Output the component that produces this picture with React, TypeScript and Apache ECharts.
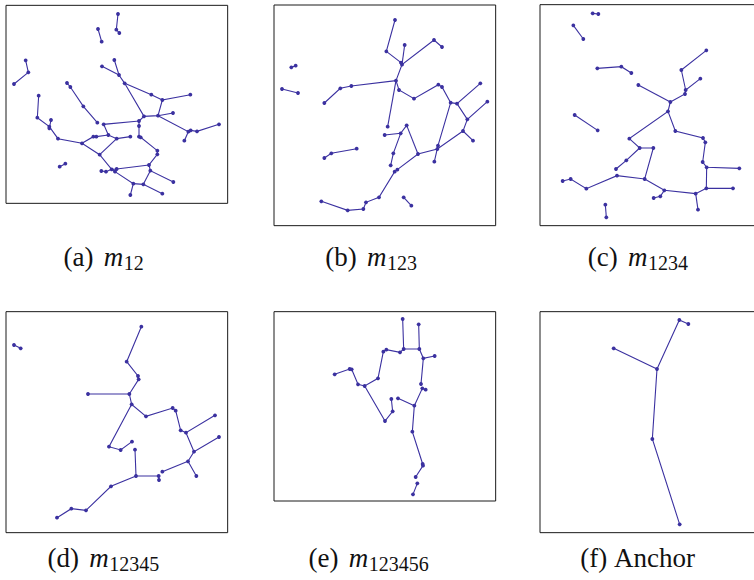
import React, { useEffect, useRef } from "react";
import * as echarts from "echarts";

const INK = "#3b31a0";

// Each panel is a set of polylines (chains of connected nodes), in panel units.
const chainsA: number[][][] = [
  [[354, 42], [349, 89], [358, 99]],
  [[294, 87], [305, 125]],
  [[77, 181], [85, 217], [42, 252]],
  [[201, 249], [211, 261], [250, 319], [292, 368]],
  [[179, 500], [196, 491]],
  [[116, 287], [112, 353], [148, 380], [174, 416], [246, 430], [299, 464], [335, 508], [345, 515], [400, 551], [430, 553], [487, 581]],
  [[153, 360], [148, 385]],
  [[246, 430], [280, 410], [289, 410], [325, 405], [350, 416], [391, 410]],
  [[350, 416], [299, 464]],
  [[325, 405], [311, 373], [417, 363], [417, 378], [417, 410], [422, 412], [472, 452], [472, 463], [447, 495], [451, 512], [520, 546]],
  [[451, 512], [430, 553]],
  [[400, 551], [391, 585]],
  [[304, 513], [318, 515], [335, 508], [350, 507], [447, 495]],
  [[306, 199], [357, 225]],
  [[343, 180], [357, 225], [374, 250], [432, 349], [474, 347], [487, 300], [571, 284]],
  [[374, 250], [454, 284], [487, 300]],
  [[474, 347], [519, 339]],
  [[474, 347], [565, 395], [572, 391], [591, 394], [657, 373]],
  [[565, 395], [553, 422]],
  [[432, 349], [417, 363]],
];

const chainsB: number[][][] = [
  [[70, 202], [83, 197]],
  [[42, 267], [90, 279]],
  [[381, 60], [355, 154], [399, 188]],
  [[410, 135], [402, 194]],
  [[522, 141], [498, 120], [402, 194], [384, 242]],
  [[384, 242], [250, 258], [217, 265], [169, 309]],
  [[384, 242], [393, 270], [438, 296], [511, 254], [522, 261], [548, 308], [567, 311], [637, 250]],
  [[384, 242], [359, 380]],
  [[567, 311], [598, 358], [658, 305]],
  [[598, 358], [585, 393], [615, 422]],
  [[585, 393], [508, 447], [450, 462], [388, 509], [380, 515], [333, 592], [294, 607], [286, 627], [239, 631], [160, 604]],
  [[548, 308], [510, 437], [499, 485]],
  [[416, 376], [450, 462]],
  [[350, 405], [398, 400], [416, 376]],
  [[398, 400], [376, 460], [368, 496]],
  [[407, 592], [430, 617]],
  [[169, 474], [190, 460], [266, 446]],
];

const chainsC: number[][][] = [
  [[176, 40], [193, 42]],
  [[118, 76], [148, 117]],
  [[190, 205], [262, 200], [292, 219]],
  [[122, 345], [191, 391]],
  [[313, 255], [409, 306]],
  [[517, 151], [442, 210], [455, 270]],
  [[499, 236], [455, 270], [453, 282], [409, 306]],
  [[409, 306], [402, 334], [286, 416], [317, 444], [358, 444], [332, 537], [249, 527], [157, 566], [110, 537], [86, 543]],
  [[317, 444], [277, 481], [246, 507]],
  [[402, 334], [424, 393], [507, 414], [514, 427], [506, 486], [518, 502], [616, 505]],
  [[518, 502], [517, 565], [597, 565]],
  [[517, 565], [485, 581], [391, 571], [332, 537]],
  [[485, 581], [492, 629]],
  [[391, 571], [379, 589], [359, 594]],
  [[214, 614], [217, 652]],
];

const chainsD: number[][][] = [
  [[42, 120], [62, 130]],
  [[424, 65], [380, 170], [414, 213], [416, 223], [388, 267], [264, 267]],
  [[388, 267], [395, 298], [438, 334], [518, 309], [527, 317], [542, 376], [558, 383], [645, 331]],
  [[558, 383], [582, 440], [657, 396]],
  [[582, 440], [564, 469], [589, 513]],
  [[564, 469], [487, 500]],
  [[395, 298], [327, 425], [362, 435], [396, 410]],
  [[405, 434], [408, 513], [476, 513], [477, 525]],
  [[408, 513], [333, 544], [258, 616], [214, 611], [171, 638]],
];

const chainsE: number[][][] = [
  [[404, 42], [407, 132], [454, 132], [452, 58]],
  [[407, 132], [396, 142], [355, 134], [346, 140], [330, 220], [290, 243], [270, 238], [251, 193], [245, 192], [200, 208]],
  [[290, 243], [351, 348], [374, 319], [370, 282]],
  [[454, 132], [466, 160], [500, 153]],
  [[466, 160], [459, 237]],
  [[473, 254], [463, 250], [439, 302], [390, 280]],
  [[439, 302], [433, 380], [464, 477], [465, 482], [443, 516]],
  [[448, 535], [435, 568]],
];

const chainsF: number[][][] = [
  [[239, 130], [369, 192], [436, 45], [463, 57]],
  [[369, 192], [355, 402], [437, 658]],
];

const captionLabels = ["(a)", "(b)", "(c)", "(d)", "(e)", "(f)"];
const captionNames = ["m", "m", "m", "m", "m", "Anchor"];
const captionSubs = ["12", "123", "1234", "12345", "123456", ""];

// layout: page offset of each panel, panel unit extents (1 unit = 1/3 px), caption ink start & baseline
const layout = [
  { ox: 0, oy: 0, x0: 18, x1: 683, y0: 16, y1: 610, capX: 65, capY: 264 },
  { ox: 268, oy: 0, x0: 18, x1: 683, y0: 15, y1: 677, capX: 326.7, capY: 264 },
  { ox: 534, oy: 0, x0: 18, x1: 683, y0: 14, y1: 677, capX: 589.3, capY: 264 },
  { ox: 0, oy: 305, x0: 18, x1: 683, y0: 20, y1: 683, capX: 49, capY: 564.5 },
  { ox: 268, oy: 305, x0: 18, x1: 683, y0: 20, y1: 588, capX: 310, capY: 564.5 },
  { ox: 534, oy: 305, x0: 18, x1: 683, y0: 20, y1: 683, capX: 581.7, capY: 564.5 },
];

const allChains = [chainsA, chainsB, chainsC, chainsD, chainsE, chainsF];

const FONT = '"Liberation Serif", "Times New Roman", serif';
const MAIN = 27;
const SUB = 20;
const BASE_SHIFT = 2.5;

function measure(text: string, font: string): number {
  const ctx = document.createElement("canvas").getContext("2d");
  if (!ctx) return text.length * 10;
  ctx.font = font;
  return ctx.measureText(text).width;
}

export default function App() {
  const ref = useRef<HTMLDivElement>(null);
  useEffect(() => {
    if (!ref.current) return;
    const chart = echarts.init(ref.current, undefined, { renderer: "svg" });
    const grid: any[] = [];
    const xAxis: any[] = [];
    const yAxis: any[] = [];
    const series: any[] = [];
    const graphic: any[] = [];
    layout.forEach((p, i) => {
      grid.push({
        left: p.ox + p.x0 / 3,
        top: p.oy + p.y0 / 3,
        width: (p.x1 - p.x0) / 3,
        height: (p.y1 - p.y0) / 3,
        show: true,
        borderColor: "#1a1a1a",
        borderWidth: 1,
        backgroundColor: "transparent",
      });
      xAxis.push({ type: "value", gridIndex: i, min: p.x0, max: p.x1, show: false });
      yAxis.push({ type: "value", gridIndex: i, min: p.y0, max: p.y1, inverse: true, show: false });
      const chains = allChains[i];
      series.push({
        type: "lines",
        coordinateSystem: "cartesian2d",
        xAxisIndex: i,
        yAxisIndex: i,
        polyline: true,
        silent: true,
        data: chains.map((c) => ({ coords: c })),
        lineStyle: { color: INK, width: 1.1, opacity: 1 },
      });
      const seen = new Set<string>();
      const pts: number[][] = [];
      chains.forEach((c) =>
        c.forEach((pt) => {
          const k = pt.join(",");
          if (!seen.has(k)) {
            seen.add(k);
            pts.push(pt);
          }
        })
      );
      series.push({
        type: "scatter",
        xAxisIndex: i,
        yAxisIndex: i,
        silent: true,
        data: pts,
        symbolSize: 3.8,
        itemStyle: { color: INK, opacity: 1 },
      });

      // caption
      const baseline = p.capY + BASE_SHIFT;
      const labelFont = `${MAIN}px ${FONT}`;
      const start = p.capX - 1.5;
      const italic = captionSubs[i] !== "";
      const w1 = measure(captionLabels[i] + " ", labelFont) + (italic ? 3.5 : 0);
      const nameFont = `${italic ? "italic " : ""}${MAIN}px ${FONT}`;
      const w2 = measure(captionNames[i], nameFont);
      const yMain = baseline - 0.3375 * MAIN;
      graphic.push({
        type: "text",
        x: start,
        y: yMain,
        style: {
          text: captionLabels[i],
          fontSize: MAIN,
          fontFamily: FONT,
          fill: "#111",
          textAlign: "left",
          textVerticalAlign: "middle",
        },
      });
      graphic.push({
        type: "text",
        x: start + w1,
        y: yMain,
        style: {
          text: captionNames[i],
          fontSize: MAIN,
          fontFamily: FONT,
          fontStyle: italic ? "italic" : "normal",
          fill: "#111",
          textAlign: "left",
          textVerticalAlign: "middle",
        },
      });
      if (italic) {
        graphic.push({
          type: "text",
          x: start + w1 + w2 + 0.5,
          y: baseline + 3.5 - 0.3375 * SUB,
          style: {
            text: captionSubs[i],
            fontSize: SUB,
            fontFamily: FONT,
            fill: "#111",
            textAlign: "left",
            textVerticalAlign: "middle",
          },
        });
      }
    });
    chart.setOption({
      animation: false,
      backgroundColor: "#fff",
      grid,
      xAxis,
      yAxis,
      series,
      graphic,
    });
    return () => chart.dispose();
  }, []);
  return (
    <div
      style={{
        position: "fixed",
        left: 0,
        top: 0,
        width: 754,
        height: 580,
        overflow: "hidden",
        background: "#fff",
      }}
    >
      <div ref={ref} style={{ width: 772, height: 580 }} />
    </div>
  );
}
